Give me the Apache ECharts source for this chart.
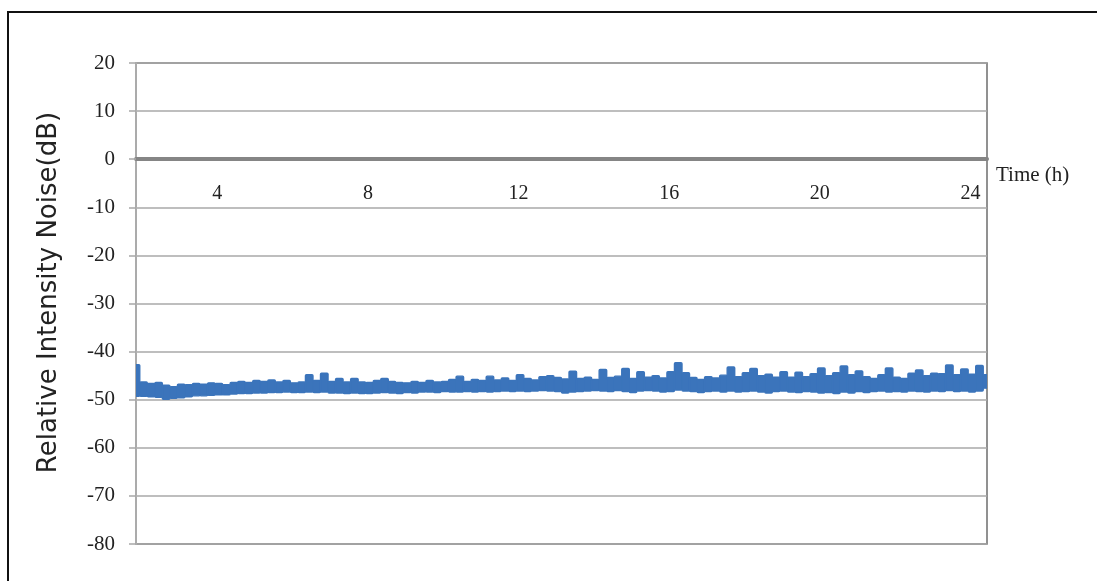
<!DOCTYPE html>
<html>
<head>
<meta charset="utf-8">
<script src="https://cdn.jsdelivr.net/npm/echarts@6/dist/echarts.min.js"></script>
<style>
html,body{margin:0;padding:0;background:#fff;}
#c{width:1097px;height:581px;}
</style>
</head>
<body>
<div id="c"></div>
<script>
// Time axis tick labels (hours)
const timeTicks = [4, 8, 12, 16, 20, 24];
// Sampling grid: first sample time (h) and spacing (h)
const tStart = 1.84;
const tStep = 0.2;
// Upper envelope of the noise trace (dB)
const upper = [
 -42.7,-46.3,-46.6,-46.4,-47.0,-47.3,-46.8,-46.9,-46.6,-46.8,
 -46.5,-46.6,-46.9,-46.4,-46.2,-46.4,-46.0,-46.2,-45.9,-46.3,
 -46.0,-46.5,-46.3,-44.8,-46.0,-44.5,-46.2,-45.6,-46.3,-45.6,
 -46.3,-46.4,-46.0,-45.6,-46.2,-46.4,-46.5,-46.2,-46.4,-46.0,
 -46.3,-46.2,-45.8,-45.1,-46.2,-45.8,-46.0,-45.1,-45.9,-45.5,
 -46.0,-44.8,-45.6,-45.9,-45.2,-45.0,-45.4,-45.7,-44.1,-45.6,
 -45.3,-45.8,-43.7,-45.4,-45.1,-43.5,-45.6,-44.2,-45.3,-45.0,
 -45.5,-44.2,-42.3,-44.4,-45.4,-45.8,-45.2,-45.5,-44.9,-43.2,
 -45.2,-44.4,-43.5,-45.0,-44.7,-45.3,-44.2,-45.3,-44.3,-45.2,
 -44.6,-43.4,-45.0,-44.4,-43.0,-44.8,-44.0,-45.2,-45.6,-44.8,
 -43.4,-45.3,-45.6,-44.5,-43.8,-45.0,-44.5,-44.6,-42.8,-44.8,
 -43.6,-44.7,-42.9,-44.8
];
// Lower envelope of the noise trace (dB)
const lower = [
 -49.3,-49.3,-49.4,-49.5,-49.9,-49.7,-49.6,-49.4,-49.2,-49.2,
 -49.1,-49.0,-49.0,-48.8,-48.7,-48.7,-48.6,-48.6,-48.5,-48.5,
 -48.4,-48.5,-48.5,-48.4,-48.5,-48.4,-48.6,-48.6,-48.7,-48.6,
 -48.7,-48.7,-48.6,-48.5,-48.6,-48.7,-48.5,-48.6,-48.4,-48.4,
 -48.5,-48.3,-48.4,-48.4,-48.3,-48.4,-48.3,-48.4,-48.3,-48.2,
 -48.3,-48.2,-48.3,-48.2,-48.1,-48.2,-48.3,-48.6,-48.4,-48.3,
 -48.2,-48.1,-48.2,-48.3,-48.1,-48.3,-48.5,-48.2,-48.1,-48.2,
 -48.4,-48.3,-48.0,-48.2,-48.3,-48.5,-48.3,-48.2,-48.4,-48.2,
 -48.4,-48.3,-48.2,-48.4,-48.6,-48.3,-48.2,-48.4,-48.5,-48.3,
 -48.4,-48.6,-48.5,-48.7,-48.4,-48.6,-48.3,-48.5,-48.3,-48.2,
 -48.4,-48.3,-48.4,-48.2,-48.3,-48.4,-48.2,-48.3,-48.1,-48.3,
 -48.2,-48.4,-48.2,-47.6
];

const times = lower.map((_, i) => +(tStart + i * tStep).toFixed(2));
const bandData = times.map((t, i) => [t, lower[i], upper[i]]);

const BLUE = '#3b74bb';
const SERIF = '"Liberation Serif", "Times New Roman", serif';

// each sample drawn as a narrow block spanning its min..max over its time slot
function renderBand(params, api) {
  const t = api.value(0), lo = api.value(1), hi = api.value(2);
  const p0 = api.coord([t - tStep / 2, hi]);
  const p1 = api.coord([t + tStep / 2, lo]);
  return {
    type: 'rect',
    shape: {x: p0[0], y: p0[1], width: p1[0] - p0[0], height: p1[1] - p0[1], r: 1},
    style: {fill: BLUE, stroke: BLUE, lineWidth: 1.4}
  };
}

const chart = echarts.init(document.getElementById('c'), null, {renderer: 'canvas'});
chart.setOption({
  animation: false,
  backgroundColor: '#fff',
  graphic: [{
    type: 'rect', z: 100, silent: true,
    shape: {x: 8, y: 12, width: 1300, height: 800},
    style: {fill: 'none', stroke: '#111', lineWidth: 2}
  }],
  grid: {
    left: 136, right: 110, top: 63, bottom: 37,
    show: true, borderColor: '#6e6e6e', borderWidth: 1.5, backgroundColor: 'transparent'
  },
  xAxis: {
    type: 'value',
    min: tStart,
    max: 24.44,
    position: 'bottom',
    offset: -384.8,
    name: 'Time (h)',
    nameLocation: 'end',
    nameGap: 9,
    nameTextStyle: {fontFamily: SERIF, fontSize: 21, color: '#222', verticalAlign: 'top', padding: [6, 0, 0, 0]},
    axisLine: {onZero: false, lineStyle: {color: '#858585', width: 4}},
    axisTick: {show: false},
    splitLine: {show: false},
    axisLabel: {
      customValues: timeTicks,
      margin: 25,
      fontFamily: SERIF, fontSize: 20, color: '#222'
    }
  },
  yAxis: {
    type: 'value',
    min: -80, max: 20, interval: 10,
    name: 'Relative Intensity Noise(dB)',
    nameLocation: 'middle',
    nameGap: 74,
    nameTextStyle: {fontFamily: '"DejaVu Sans", sans-serif', fontSize: 26, color: '#222', padding: [0, 0, 0, 22]},
    axisLine: {show: true, lineStyle: {color: '#b5b5b5', width: 1.5}},
    axisTick: {show: true, length: 7, lineStyle: {color: '#a8a8a8', width: 1.5}},
    splitLine: {show: true, lineStyle: {color: '#a8a8a8', width: 1.5}},
    axisLabel: {
      margin: 21,
      fontFamily: SERIF, fontSize: 21, color: '#222',
      formatter: v => String(v)
    }
  },
  series: [
    {
      name: 'RIN', type: 'custom',
      renderItem: renderBand,
      data: bandData,
      encode: {x: 0, y: [1, 2]},
      clip: true,
      silent: true
    }
  ]
});
</script>
</body>
</html>
